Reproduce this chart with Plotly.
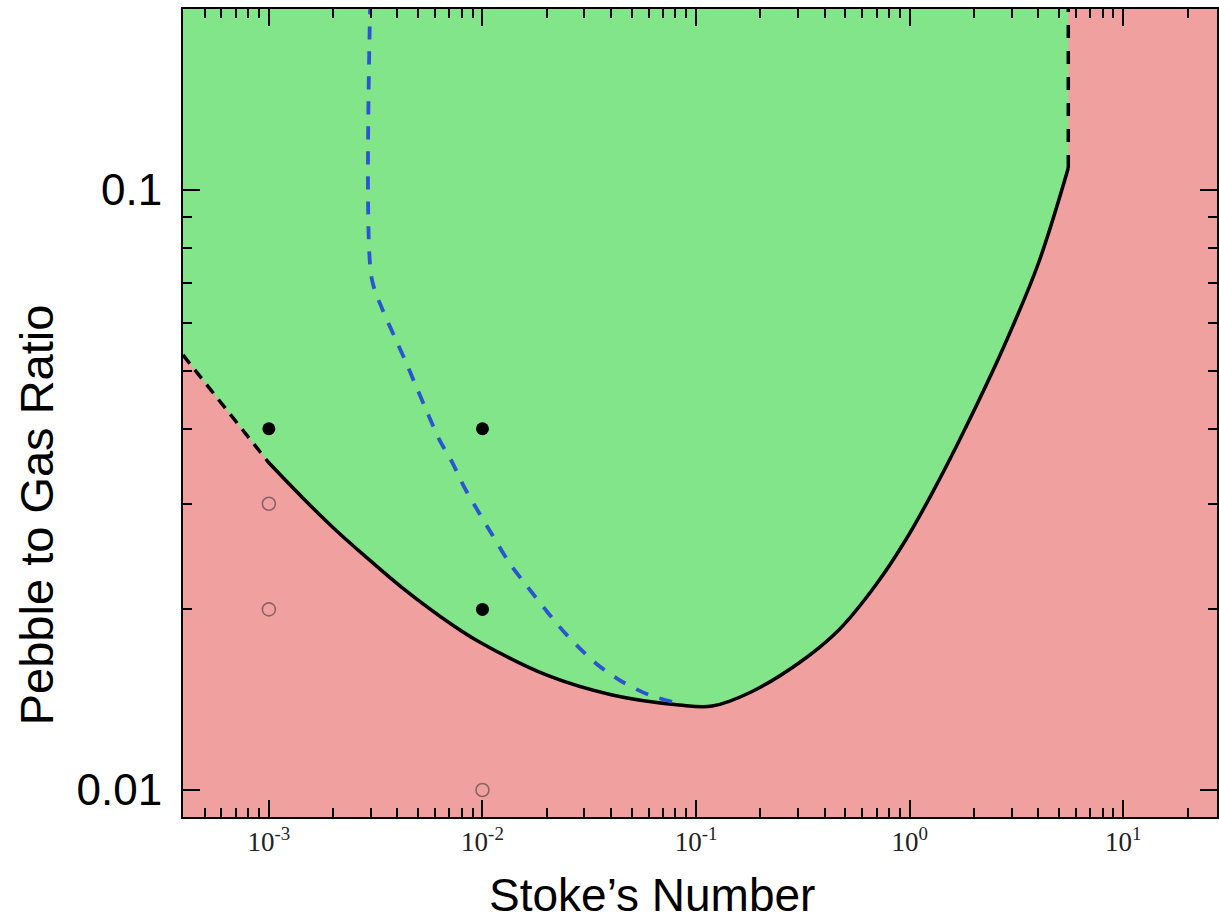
import plotly.graph_objects as go

# ---------------- data ----------------
# Stability boundary (Stokes number, pebble-to-gas ratio)
boundary_st = [3.96e-4, 1.0e-3, 1.442e-3, 2.078e-3, 2.965e-3, 4.23e-3, 7.24e-3, 9.68e-3,
               1.99e-2, 4.05e-2, 8.33e-2, 0.1188, 0.177, 0.303, 0.466, 0.694,
               0.958, 1.267, 1.787, 2.809, 4.007, 5.53]
boundary_ratio = [0.0531, 0.0351, 0.03067, 0.02702, 0.02416, 0.02171, 0.01884, 0.01765,
                  0.01555, 0.01440, 0.01386, 0.01380, 0.01451, 0.01628, 0.01848,
                  0.02196, 0.0261, 0.03113, 0.03951, 0.0556, 0.0755, 0.1088]

# Blue dashed curve
blue_st = [3.02e-3, 3.02e-3, 3.41e-3, 3.88e-3, 4.40e-3, 4.90e-3, 5.53e-3, 6.30e-3, 7.24e-3,
           8.24e-3, 9.68e-3, 1.113e-2, 1.337e-2, 1.60e-2, 2.29e-2, 2.84e-2, 3.52e-2,
           4.51e-2, 6.03e-2, 8.04e-2, 8.60e-2]
blue_ratio = [0.25, 0.0717, 0.0631, 0.0569, 0.0515, 0.0470, 0.0425, 0.0383, 0.0351,
              0.0319, 0.0289, 0.0266, 0.0239, 0.02197, 0.01872, 0.01725, 0.01609,
              0.01515, 0.01440, 0.01398, 0.01391]

# Simulation points
filled_st = [1e-3, 1e-2, 1e-2]
filled_ratio = [0.04, 0.04, 0.02]
open_st = [1e-3, 1e-3, 1e-2]
open_ratio = [0.03, 0.02, 0.01]

x_tickvals = [1e-3, 1e-2, 1e-1, 1e0, 1e1]
x_ticktext = ["10<sup>-3</sup>", "10<sup>-2</sup>", "10<sup>-1</sup>",
              "10<sup>0</sup>", "10<sup>1</sup>"]
y_tickvals = [0.01, 0.1]
y_ticktext = ["0.01", "0.1"]

X_RANGE = [-3.402, 1.439]
Y_RANGE = [-2.045, -0.6983]
TOP = 0.25  # beyond the top of the axes, used to close the region

GREEN = "#83E589"
PINK = "#F1A0A0"

x_minor = [m * 10.0 ** k for k in range(-4, 2) for m in range(2, 10)]
y_minor = [m * 10.0 ** k for k in range(-3, 0) for m in range(2, 10)]

fig = go.Figure()

# green region above the boundary
poly_x = [boundary_st[0]] + boundary_st + [boundary_st[-1], boundary_st[0]]
poly_y = [TOP] + boundary_ratio + [TOP, TOP]
fig.add_trace(go.Scatter(x=poly_x, y=poly_y, mode="lines", fill="toself",
                         fillcolor=GREEN, line=dict(width=0),
                         hoverinfo="skip", showlegend=False))

# boundary: dashed extrapolation at left, solid middle, dashed vertical at right
fig.add_trace(go.Scatter(x=boundary_st[:2], y=boundary_ratio[:2], mode="lines",
                         line=dict(color="black", width=3.5, dash="11px,8px"),
                         showlegend=False))
fig.add_trace(go.Scatter(x=boundary_st[1:], y=boundary_ratio[1:], mode="lines",
                         line=dict(color="black", width=3.5, shape="spline", smoothing=1.0),
                         showlegend=False))
fig.add_trace(go.Scatter(x=[boundary_st[-1], boundary_st[-1]], y=[boundary_ratio[-1], TOP],
                         mode="lines",
                         line=dict(color="black", width=3.5, dash="13px,13px"),
                         showlegend=False))

# blue dashed curve
fig.add_trace(go.Scatter(x=blue_st, y=blue_ratio, mode="lines",
                         line=dict(color="#2A55D0", width=3.8, dash="13px,12px",
                                   shape="spline", smoothing=0.8),
                         showlegend=False))

# points
fig.add_trace(go.Scatter(x=filled_st, y=filled_ratio, mode="markers",
                         marker=dict(color="black", size=13, line=dict(width=0)),
                         showlegend=False))
fig.add_trace(go.Scatter(x=open_st, y=open_ratio, mode="markers",
                         marker=dict(color="rgba(0,0,0,0)", size=13,
                                     line=dict(color="#8a6464", width=1.6)),
                         showlegend=False))

axis_common = dict(showline=True, linecolor="black", linewidth=2, mirror="ticks",
                   ticks="inside", ticklen=17, tickwidth=2, tickcolor="black",
                   showgrid=False, zeroline=False, type="log")

fig.update_xaxes(**axis_common, range=X_RANGE, tickvals=x_tickvals, ticktext=x_ticktext,
                 tickfont=dict(family="Liberation Serif", size=27, color="#222"),
                 minor=dict(tickvals=x_minor, ticks="inside", ticklen=9, tickwidth=2,
                            tickcolor="black", showgrid=False))
fig.update_yaxes(**axis_common, range=Y_RANGE, tickvals=y_tickvals, ticktext=y_ticktext,
                 tickfont=dict(family="Liberation Sans", size=44, color="black"),
                 ticklabelstandoff=10,
                 minor=dict(tickvals=y_minor, ticks="inside", ticklen=9, tickwidth=2,
                            tickcolor="black", showgrid=False))

fig.add_annotation(text="Stoke’s Number", xref="paper", yref="paper",
                   x=0.4537, y=-0.097, xanchor="center", yanchor="middle",
                   showarrow=False,
                   font=dict(family="Liberation Sans", size=46, color="black"))
fig.add_annotation(text="Pebble to Gas Ratio", xref="paper", yref="paper",
                   x=-0.1409, y=0.3738, xanchor="center", yanchor="middle",
                   textangle=-90, showarrow=False,
                   font=dict(family="Liberation Sans", size=47, color="black"))

fig.update_layout(width=1219, height=921, margin=dict(l=183, r=0, t=9, b=104),
                  plot_bgcolor=PINK, paper_bgcolor="white")

fig.write_html("out.html")
